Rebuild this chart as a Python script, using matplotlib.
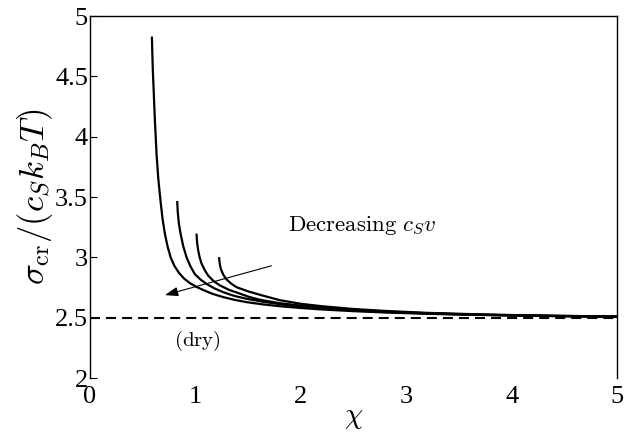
import matplotlib
matplotlib.use("Agg")
import matplotlib.pyplot as plt

plt.rcParams['mathtext.fontset'] = 'cm'
plt.rcParams['font.family'] = ['Liberation Serif', 'DejaVu Serif']

# Curve data (chi, sigma_cr/(c_S k_B T))
chi_1 = [0.587, 0.591, 0.596, 0.606, 0.6155, 0.631, 0.648, 0.669, 0.688, 0.710, 0.736, 0.765, 0.80, 0.845, 0.895, 0.95, 1.01, 1.073, 1.16, 1.262, 1.37, 1.484, 1.64, 1.80, 2.0, 2.2, 2.5, 2.8, 3.2, 3.6, 4.0, 4.5, 5.0]
sig_1 = [4.83, 4.70, 4.55, 4.34, 4.137, 3.86, 3.65, 3.467, 3.32, 3.197, 3.09, 3.0, 2.93, 2.87, 2.822, 2.785, 2.755, 2.73, 2.698, 2.671, 2.648, 2.629, 2.61, 2.595, 2.580, 2.568, 2.554, 2.543, 2.532, 2.524, 2.518, 2.512, 2.507]

chi_2 = [0.827, 0.832, 0.843, 0.859, 0.885, 0.916, 0.953, 0.994, 1.05, 1.105, 1.18, 1.262, 1.37, 1.484, 1.64, 1.80, 2.0, 2.2, 2.5, 2.8, 3.2, 3.6, 4.0, 4.5, 5.0]
sig_2 = [3.467, 3.38, 3.28, 3.197, 3.09, 3.0, 2.925, 2.861, 2.815, 2.78, 2.743, 2.712, 2.68, 2.657, 2.632, 2.612, 2.592, 2.577, 2.560, 2.547, 2.535, 2.526, 2.519, 2.513, 2.508]

chi_3 = [1.010, 1.016, 1.026, 1.04, 1.058, 1.088, 1.12, 1.17, 1.231, 1.32, 1.42, 1.51, 1.61, 1.80, 2.0, 2.2, 2.5, 2.8, 3.2, 3.6, 4.0, 4.5, 5.0]
sig_3 = [3.197, 3.12, 3.058, 3.0, 2.948, 2.895, 2.85, 2.805, 2.768, 2.73, 2.700, 2.672, 2.649, 2.620, 2.600, 2.584, 2.565, 2.550, 2.537, 2.527, 2.520, 2.514, 2.509]

chi_4 = [1.224, 1.23, 1.24, 1.262, 1.288, 1.335, 1.389, 1.50, 1.61, 1.80, 2.0, 2.2, 2.5, 2.8, 3.2, 3.6, 4.0, 4.5, 5.0]
sig_4 = [3.002, 2.95, 2.906, 2.86, 2.823, 2.785, 2.753, 2.718, 2.690, 2.645, 2.615, 2.595, 2.572, 2.556, 2.540, 2.530, 2.522, 2.515, 2.510]

chi_dry = [0, 5]
sig_dry = [2.5, 2.5]

xticks = [0, 1, 2, 3, 4, 5]
yticks = [2, 2.5, 3, 3.5, 4, 4.5, 5]
ytick_labels = ['2', '2.5', '3', '3.5', '4', '4.5', '5']

fig = plt.figure(figsize=(6.24, 4.34), dpi=100)
ax = fig.add_axes([0.1442, 0.129, 0.845, 0.834])

for cx, cy in [(chi_1, sig_1), (chi_2, sig_2), (chi_3, sig_3), (chi_4, sig_4)]:
    ax.plot(cx, cy, color='black', lw=1.6, solid_capstyle='butt', solid_joinstyle='round')

ax.plot(chi_dry, sig_dry, color='black', lw=1.5, dashes=(4.8, 2.9))

ax.annotate('', xy=(0.71, 2.687), xytext=(1.72, 2.93),
            arrowprops=dict(arrowstyle='-|>,head_length=0.8,head_width=0.28',
                            color='black', lw=0.8, shrinkA=0, shrinkB=0))
ax.text(1.88, 3.265, r'$\mathrm{Decreasing}\ c_S v$', fontsize=16.5, ha='left', va='center')
ax.text(1.02, 2.305, r'$\mathrm{(dry)}$', fontsize=15, ha='center', va='center')

ax.set_xlim(0, 5)
ax.set_ylim(2, 5)
ax.set_xticks(xticks)
ax.set_yticks(yticks)
ax.set_yticklabels(ytick_labels)
ax.tick_params(axis='both', direction='in', labelsize=19, length=5, width=0.8)
ax.tick_params(axis='y', pad=1.5)
ax.tick_params(axis='x', length=0, pad=6)
for s in ['left', 'top', 'right']:
    ax.spines[s].set_linewidth(1.0)
ax.spines['bottom'].set_visible(False)

ax.set_xlabel(r'$\chi$', fontsize=21, labelpad=-2.5)
ax.set_ylabel(r'$\sigma_{\mathrm{cr}}/(c_S k_B T)$', fontsize=25, labelpad=0)

fig.savefig('out.png', dpi=100)
